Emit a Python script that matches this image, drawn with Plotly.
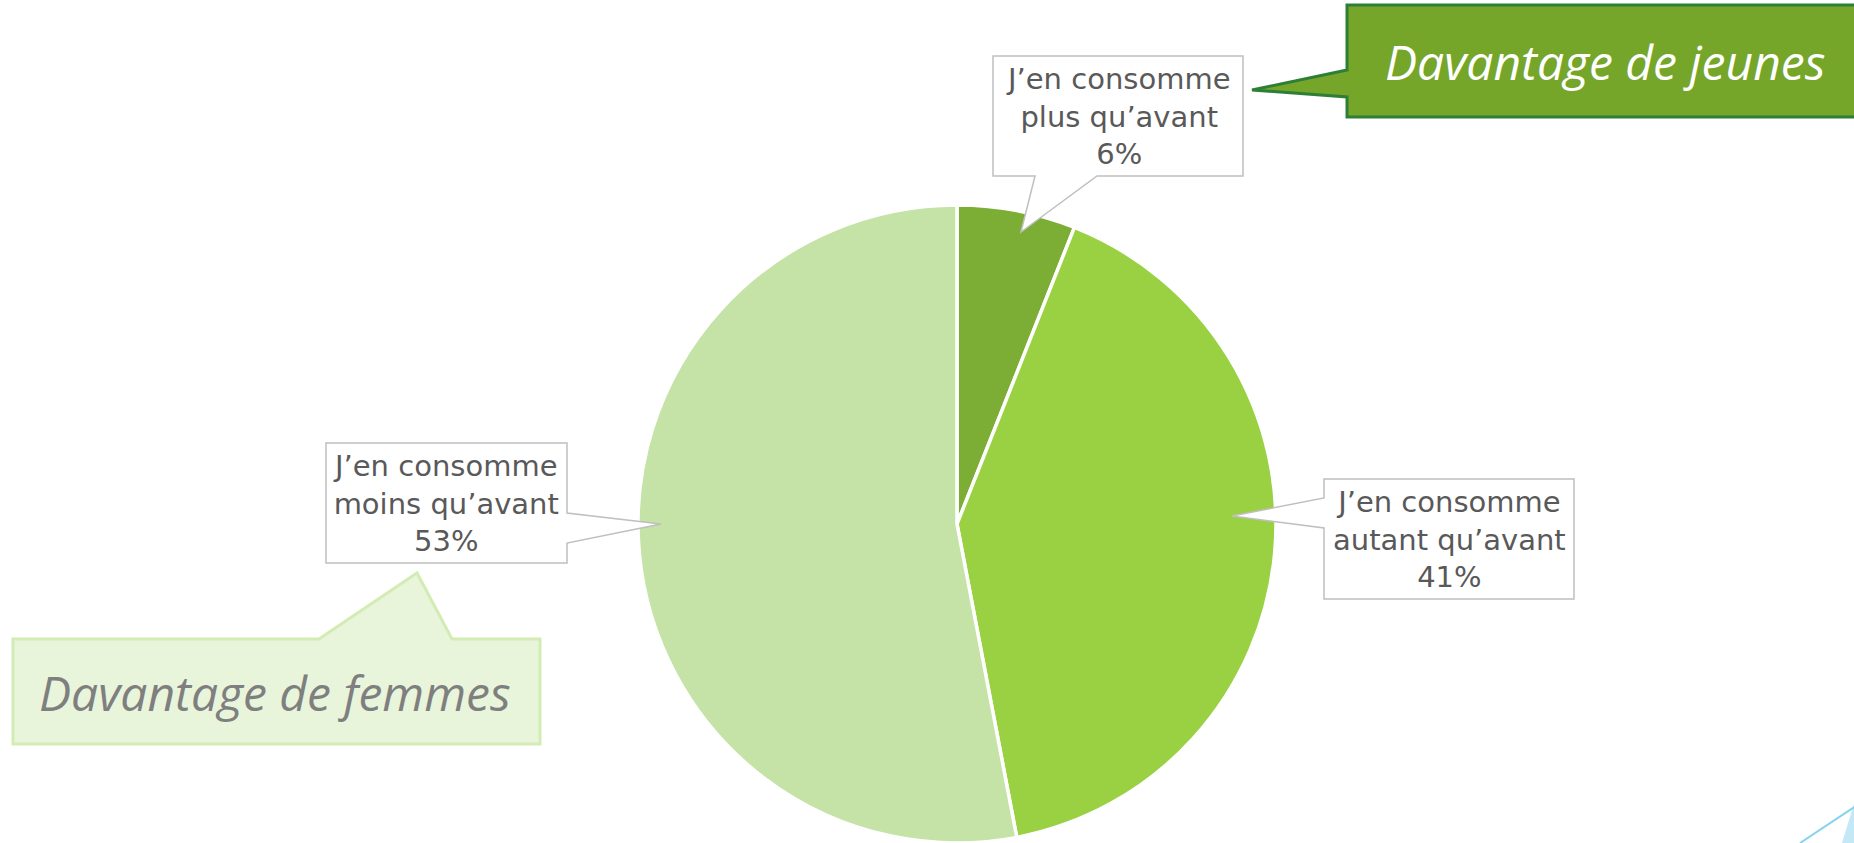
import plotly.graph_objects as go

# ---- data ----
categories = ["J’en consomme plus qu’avant", "J’en consomme autant qu’avant", "J’en consomme moins qu’avant"]
label_lines = [["J’en consomme", "plus qu’avant"], ["J’en consomme", "autant qu’avant"], ["J’en consomme", "moins qu’avant"]]
values = [6, 41, 53]
slice_colors = ["#7CAD34", "#99D143", "#C5E3A7"]
callout_texts = ["Davantage de jeunes", "Davantage de femmes"]

W, H = 1854, 843


def P(x, y):
    return f"{x / W:.5f},{1 - y / H:.5f}"


def poly(points):
    return "M " + " L ".join(P(x, y) for x, y in points) + " Z"


fig = go.Figure()
fig.add_trace(go.Pie(
    values=values,
    labels=categories,
    sort=False,
    direction="clockwise",
    rotation=0,
    marker=dict(colors=slice_colors, line=dict(color="white", width=3.5)),
    textinfo="none",
    hoverinfo="label+percent",
    showlegend=False,
    domain=dict(x=[637 / W, 1277 / W], y=[0, 1 - 205 / H]),
))

shapes = []
# data-label callouts (white box with grey outline and tail)
label_boxes = [
    [(993, 56), (1243, 56), (1243, 176), (1097, 176), (1021, 232), (1035, 176), (993, 176)],
    [(1324, 479), (1574, 479), (1574, 599), (1324, 599), (1324, 528), (1232, 516), (1324, 498)],
    [(326, 443), (567, 443), (567, 513), (661, 524), (567, 543), (567, 563), (326, 563)],
]
for pts in label_boxes:
    shapes.append(dict(type="path", xref="paper", yref="paper", path=poly(pts),
                       fillcolor="white", line=dict(color="#BFBFBF", width=1.5), layer="above"))

# "Davantage de jeunes" callout
shapes.append(dict(type="path", xref="paper", yref="paper",
                   path=poly([(1347, 5), (1857, 5), (1857, 117), (1347, 117), (1347, 97), (1252, 90), (1347, 70)]),
                   fillcolor="#75A62A", line=dict(color="#2E7F36", width=3), layer="above"))
# "Davantage de femmes" callout
shapes.append(dict(type="path", xref="paper", yref="paper",
                   path=poly([(13, 639), (319, 639), (417, 573), (452, 639), (540, 639), (540, 744), (13, 744)]),
                   fillcolor="#E8F5DB", line=dict(color="#D3ECB4", width=3), layer="above"))
# decorative corner
shapes.append(dict(type="path", xref="paper", yref="paper",
                   path=poly([(1842, 843), (1856, 797), (1856, 843)]),
                   fillcolor="#C3E9F7", line=dict(width=0), layer="above"))
shapes.append(dict(type="line", xref="paper", yref="paper",
                   x0=1800 / W, y0=1 - 843 / H, x1=1856 / W, y1=1 - 806 / H,
                   line=dict(color="#86D3EE", width=2), layer="above"))

annotations = []
label_centers = [(1118, 116), (1449, 539), (446, 503)]
for lines, v, (cx, cy) in zip(label_lines, values, label_centers):
    annotations.append(dict(
        xref="paper", yref="paper", x=cx / W, y=1 - cy / H, xanchor="center", yanchor="middle",
        text="<br>".join(lines + [f"{v}%"]), showarrow=False, align="center",
        font=dict(family="DejaVu Sans", size=29, color="#595959"),
    ))

annotations.append(dict(
    xref="paper", yref="paper", x=1605 / W, y=1 - 62 / H, xanchor="center", yanchor="middle",
    text=f"<i>{callout_texts[0]}</i>", showarrow=False,
    font=dict(family="Open Sans", size=48, color="white"),
))
annotations.append(dict(
    xref="paper", yref="paper", x=275 / W, y=1 - 692 / H, xanchor="center", yanchor="middle",
    text=f"<i>{callout_texts[1]}</i>", showarrow=False,
    font=dict(family="Open Sans", size=48, color="#7F7F7F"),
))

fig.update_layout(
    width=W, height=H,
    margin=dict(l=0, r=0, t=0, b=0),
    paper_bgcolor="white", plot_bgcolor="white",
    shapes=shapes, annotations=annotations,
)

fig.write_html("out.html", config={"displayModeBar": False},
               post_script="document.body.style.margin='0';")
